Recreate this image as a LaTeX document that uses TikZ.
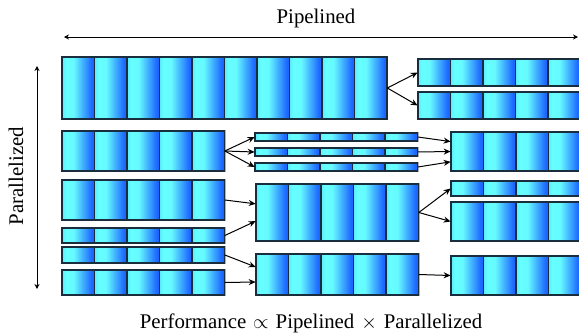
\documentclass[tikz,border=0pt]{standalone}
\usepackage{fontspec}
\setmainfont{Liberation Serif}
\usetikzlibrary{arrows.meta,calc,fit}

\definecolor{cellEdge}{RGB}{25,45,60}

% cyan on the left, fading into blue on the right
\pgfdeclarehorizontalshading{cellshade}{100bp}{%
  rgb(0bp)=(0.36,0.92,1); rgb(25bp)=(0.36,0.92,1);
  rgb(31bp)=(0.4,1,1); rgb(43bp)=(0.4,0.98,1);
  rgb(70bp)=(0.12,0.42,1); rgb(75bp)=(0.1,0.38,1); rgb(100bp)=(0.1,0.38,1)}

\tikzset{
  conn/.style={-{Stealth[length=4.2pt,width=3.6pt]}, line width=0.6pt, black},
  axis/.style={{Stealth[length=3pt,width=3pt]}-{Stealth[length=3pt,width=3pt]}, line width=0.6pt, black},
  lbl/.style={font=\fontsize{12.5}{14}\selectfont, inner sep=0pt},
}

% a block of #5 pipeline cells: name, left x, top y, bottom y, cell count
\newcommand\cellrow[5]{%
  \draw[black!30, line width=1.5pt] (#2,#3) rectangle ({#2+#5*32.5},#4);
  \foreach \k in {1,...,#5}{
    \shade[shading=cellshade]
      ({#2+(\k-1)*32.5},#3) rectangle ({#2+\k*32.5},#4);
    \draw[cellEdge, line width=0.7pt]
      ({#2+(\k-1)*32.5},#3) rectangle ({#2+\k*32.5},#4);
  }
  \node[fit={(#2,#3)({#2+#5*32.5},#4)}, inner sep=0pt] (#1) {};
}

\begin{document}
\begin{tikzpicture}[x=0.6pt, y=-0.6pt]
\useasboundingbox (0,0) rectangle (579,336);

% axes and captions
\coordinate (pl) at (64,37);
\coordinate (pr) at (578,37);
\draw[axis] (pl) -- (pr);
\node[lbl] (ptitle) at (316,18) {Pipelined};
\coordinate (vt) at (37,66);
\coordinate (vb) at (37,289);
\draw[axis] (vt) -- (vb);
\node[lbl, rotate=90] (vtitle) at (16,176) {Parallelized};
\node[lbl] (caption) at (311,323) {Performance\,\,$\propto$\,\,Pipelined\,\,$\times$\,\,Parallelized};

% first row: one long pipeline split into two
\cellrow{A}{62}{57}{119}{10}
\cellrow{Aa}{418}{59}{86}{5}
\cellrow{Ab}{418}{92}{119}{5}

% second row: fan out into three thin stages and back
\cellrow{B}{62}{131}{171}{5}
\cellrow{Ba}{255}{133}{141}{5}
\cellrow{Bb}{255}{148}{156}{5}
\cellrow{Bc}{255}{163}{171}{5}
\cellrow{Br}{451}{132}{171}{4}

% lower rows
\cellrow{Ca}{62}{180}{220}{5}
\cellrow{Cb}{62}{228}{243}{5}
\cellrow{Cc}{62}{247}{263}{5}
\cellrow{Cd}{62}{270}{295}{5}
\cellrow{M}{256}{184}{241}{5}
\cellrow{D}{256}{254}{295}{5}
\cellrow{Ma}{451}{181}{196}{4}
\cellrow{Mb}{451}{202}{241}{4}
\cellrow{Dr}{451}{256}{295}{4}

% connectors
\draw[conn] (A.east) -- (Aa.west);
\draw[conn] (A.east) -- (Ab.west);

\draw[conn] (B.east) -- (Ba.west);
\draw[conn] (B.east) -- (Bb.west);
\draw[conn] (B.east) -- (Bc.west);
\draw[conn] (Ba.east) -- ($(Br.north west)!0.25!(Br.south west)$);
\draw[conn] (Bb.east) -- (Br.west);
\draw[conn] (Bc.east) -- ($(Br.north west)!0.76!(Br.south west)$);

\draw[conn] (Ca.east) -- ($(M.north west)!0.35!(M.south west)$);
\draw[conn] (Cb.east) -- ($(M.north west)!0.65!(M.south west)$);
\draw[conn] (Cc.east) -- ($(D.north west)!0.32!(D.south west)$);
\draw[conn] (Cd.east) -- ($(D.north west)!0.68!(D.south west)$);

\draw[conn] (M.east) -- (Ma.west);
\draw[conn] (M.east) -- (Mb.west);
\draw[conn] (D.east) -- (Dr.west);
\end{tikzpicture}
\end{document}
